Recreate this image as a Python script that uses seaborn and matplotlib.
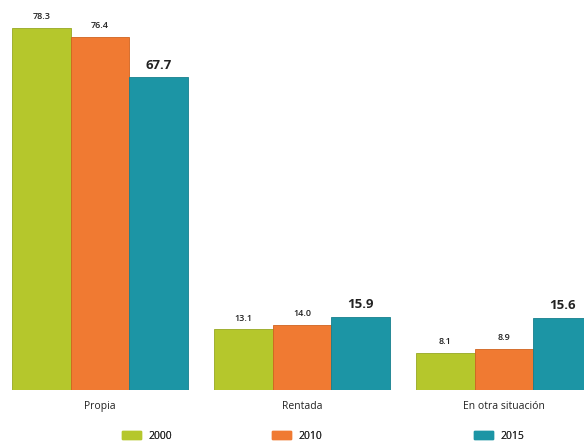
import matplotlib
matplotlib.use("Agg")
import matplotlib.pyplot as plt
import seaborn as sns
import pandas as pd
from matplotlib.patches import Patch

# tenencia de la vivienda, porcentaje por año
categories = ["Propia", "Rentada", "En otra situación"]
years = ["2000", "2010", "2015"]
v2000 = [78.3, 13.1, 8.1]
v2010 = [76.4, 14.0, 8.9]
v2015 = [67.7, 15.9, 15.6]
colors = ["#b5c72c", "#f07a32", "#1c95a5"]
edges = ["#97a823", "#d0631f", "#167f8d"]

df = pd.DataFrame({
    "cat": categories * 3,
    "year": [y for y in years for _ in categories],
    "val": v2000 + v2010 + v2015,
})

sns.set_style("white")
plt.rcParams["font.family"] = ["Open Sans", "DejaVu Sans"]

fig = plt.figure(figsize=(5.84, 4.44), dpi=100)
ax = fig.add_axes([0, 54 / 444, 1, 390 / 444])

sns.barplot(data=df, x="cat", y="val", hue="year", palette=colors,
            width=0.87, gap=0, ax=ax, legend=False, saturation=1)

for i, cont in enumerate(ax.containers):
    for bar in cont:
        bar.set_edgecolor(edges[i])
        bar.set_linewidth(0.6)
    if i == 2:
        ax.bar_label(cont, fmt="%.1f", padding=4, fontsize=9.5,
                     fontweight="bold", color="#222222")
    else:
        ax.bar_label(cont, fmt="%.1f", padding=5, fontsize=6.5,
                     fontweight="semibold", color="#222222")

ax.set_xlim(-100 / 202, 484 / 202)
ax.set_ylim(0, 84.4)
ax.set_xlabel("")
ax.set_ylabel("")
ax.set_yticks([])
ax.tick_params(axis="x", length=0, pad=8, labelsize=7.5, colors="#222222")
sns.despine(ax=ax, left=True, bottom=True)

# leyenda: tres entradas separadas como en el original
leg_x = [118 / 584, 268 / 584, 470 / 584]
for yr, c, lx in zip(years, colors, leg_x):
    lg = fig.legend(handles=[Patch(facecolor=c, edgecolor=c)], labels=[yr],
                    loc="center left", bbox_to_anchor=(lx, 8 / 444),
                    frameon=False, fontsize=7.5, handlelength=1.8,
                    handleheight=0.9, handletextpad=0.7, borderaxespad=0)
    fig.add_artist(lg)

fig.savefig("out.png", dpi=100)
